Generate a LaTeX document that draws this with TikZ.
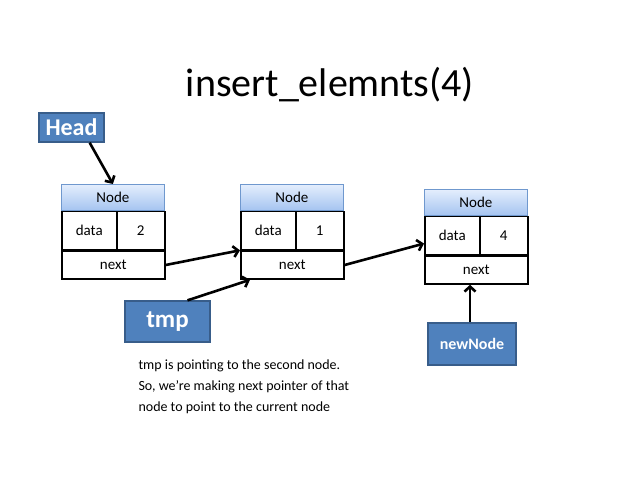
\documentclass[tikz,border=0pt]{standalone}
\usepackage{fontspec}
\setmainfont{Carlito}
\usepackage{xcolor}
\usetikzlibrary{arrows.meta}
\usetikzlibrary{calc}
\usetikzlibrary{positioning}
\definecolor{boxblue}{HTML}{4F81BD}
\definecolor{boxedge}{HTML}{385D8A}
\definecolor{hdrtop}{HTML}{E4EEFD}
\definecolor{hdrbot}{HTML}{A5C4F0}
\definecolor{hdredge}{HTML}{6F98CE}

\begin{document}
\begin{tikzpicture}[x=1pt,y=-1pt,>={Straight Barb[length=5pt,width=11pt]},node distance=0pt]
 \tikzstyle{lbl}=[draw=boxedge, fill=boxblue, line width=1.3pt, text=white, font=\bfseries, inner sep=0pt]
 \tikzstyle{hdr}=[draw=hdredge, top color=hdrtop, bottom color=hdrbot, line width=0.8pt, minimum width=103pt, minimum height=26pt, inner sep=0pt, font=\fontsize{15}{17}\selectfont]
 \tikzstyle{cell}=[draw=black, fill=white, line width=1.5pt, inner sep=0pt, font=\fontsize{15}{17}\selectfont]
 \tikzstyle{ptr}=[->, line width=2.6pt]
 \useasboundingbox (0,0) rectangle (636,481);

 \node[font=\fontsize{40}{44}\selectfont] (title) at (330,85) {insert\_elemnts(4)};

 \foreach \n/\x/\y/\v in {a/61/184/2, b/240/184/1, c/424/189/4}{
   \node[hdr, anchor=north west] (h\n) at (\x,\y) {Node};
   \node[cell, minimum width=55pt, minimum height=38pt, below right=0pt and 0pt of h\n.south west] (d\n) {data};
   \node[cell, minimum width=48pt, minimum height=38pt, below right=0pt and 0pt of h\n.south west, xshift=55pt] (v\n) {\v};
   \node[cell, minimum width=103pt, minimum height=28pt, below right=0pt and 0pt of d\n.south west] (x\n) {next};
 }

 \node[lbl, minimum width=65pt, minimum height=29pt, font=\fontsize{24}{26}\bfseries] (head) at (71.5,127.5) {Head};
 \node[lbl, minimum width=85pt, minimum height=41pt, font=\fontsize{25}{27}\bfseries] (tmp) at (167.5,321.5) {tmp};
 \node[lbl, minimum width=88pt, minimum height=42pt, font=\fontsize{16}{18}\bfseries] (newnode) at (472,344) {newNode};

 \node[anchor=north west, align=left, font=\fontsize{14}{21}\selectfont] (note) at (135,356)
   {tmp is pointing to the second node.\\ So, we’re making next pointer of that\\ node to point to the current node};

 \draw[ptr] ([xshift=-15pt]head.south east) -- (ha.north);
 \draw[ptr] (xa.east) -- (xb.north west);
 \draw[ptr] ([xshift=20pt]tmp.north) -- ([xshift=10pt]xb.south west);
 \draw[ptr] (xb.east) -- ($(dc.west)+(0,8)$);
 \draw[ptr] ([xshift=-2pt]newnode.north) -- ([xshift=-2pt]newnode.north |- xc.south);
\end{tikzpicture}
\end{document}
